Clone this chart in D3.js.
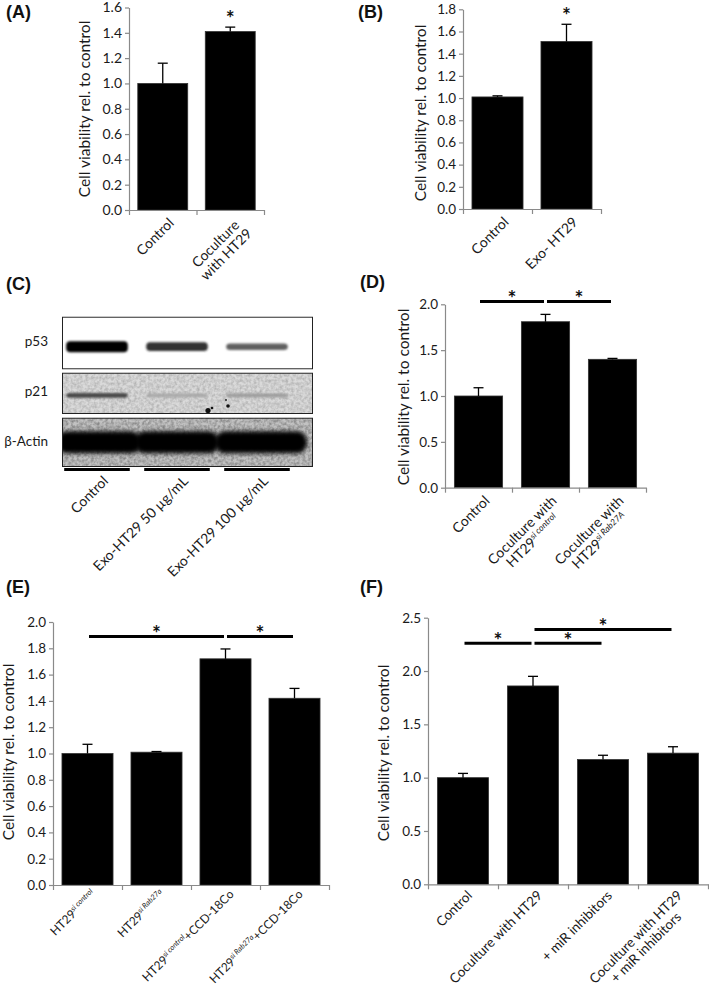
<!DOCTYPE html>
<html><head><meta charset="utf-8">
<script src="https://cdn.jsdelivr.net/npm/d3@7"></script>
<style>
body{margin:0;background:#fff}
svg{display:block}
</style>
</head><body>
<svg id="fig" width="709" height="986"></svg>
<script>
// ---------------- DATA ----------------
// Panel A
const panelA_categories = ["Control", "Coculture\nwith HT29"];
const panelA_values = [1.00, 1.41];
const panelA_errors = [0.16, 0.035];
const panelA_ticks = [0, 0.2, 0.4, 0.6, 0.8, 1.0, 1.2, 1.4, 1.6];
const panelA_starred = [1];

// Panel B
const panelB_categories = ["Control", "Exo- HT29"];
const panelB_values = [1.01, 1.51];
const panelB_errors = [0.01, 0.155];
const panelB_ticks = [0, 0.2, 0.4, 0.6, 0.8, 1.0, 1.2, 1.4, 1.6, 1.8];
const panelB_starred = [1];

// Panel C (western blot, relative band signal per lane)
const blotLanes = ["Control", "Exo-HT29 50 µg/mL", "Exo-HT29 100 µg/mL"];
const blotProteins = ["p53", "p21", "β-Actin"];
const blotP53 = [1.0, 0.8, 0.6];
const blotP21 = [0.7, 0.3, 0.35];
const blotActin = [1.0, 1.0, 1.0];

// Panel D
const panelD_categories = ["Control", "Coculture with\nHT29^{si control}", "Coculture with\nHT29^{si Rab27A}"];
const panelD_values = [1.00, 1.81, 1.40];
const panelD_errors = [0.09, 0.08, 0.01];
const panelD_ticks = [0, 0.5, 1.0, 1.5, 2.0];
const panelD_brackets = [{from: 0, to: 1, level: 2.03}, {from: 1, to: 2, level: 2.03}];

// Panel E
const panelE_categories = ["HT29^{si control}", "HT29^{si Rab27a}", "HT29^{si control}+CCD-18Co", "HT29^{si Rab27a}+CCD-18Co"];
const panelE_values = [1.00, 1.01, 1.72, 1.42];
const panelE_errors = [0.07, 0.005, 0.075, 0.075];
const panelE_ticks = [0, 0.2, 0.4, 0.6, 0.8, 1.0, 1.2, 1.4, 1.6, 1.8, 2.0];
const panelE_brackets = [{from: 0, to: 2, level: 1.89}, {from: 2, to: 3, level: 1.89}];

// Panel F
const panelF_categories = ["Control", "Coculture with HT29", "+ miR inhibitors", "Coculture with HT29\n+ miR inhibitors"];
const panelF_values = [1.00, 1.86, 1.17, 1.23];
const panelF_errors = [0.04, 0.09, 0.04, 0.06];
const panelF_ticks = [0, 0.5, 1.0, 1.5, 2.0, 2.5];
const panelF_brackets = [{from: 0, to: 1, level: 2.26}, {from: 1, to: 2, level: 2.26}, {from: 1, to: 3, level: 2.39}];

const yTitle = "Cell viability rel. to control";

// ---------------- STYLE / LAYOUT ----------------
const FONT = "Lato, 'Open Sans', sans-serif";
const AX = "#8a8a8a";
const fig = d3.select("#fig");

const defs = fig.append("defs");
defs.append("filter").attr("id", "blurS").attr("x", "-20%").attr("y", "-80%").attr("width", "140%").attr("height", "260%")
  .append("feGaussianBlur").attr("stdDeviation", 1.3);
defs.append("filter").attr("id", "blurL").attr("x", "-20%").attr("y", "-80%").attr("width", "140%").attr("height", "260%")
  .append("feGaussianBlur").attr("stdDeviation", 2.2);
const grain = defs.append("filter").attr("id", "grain").attr("x", 0).attr("y", 0).attr("width", "100%").attr("height", "100%");
grain.append("feTurbulence").attr("type", "fractalNoise").attr("baseFrequency", 0.35).attr("numOctaves", 2).attr("seed", 7).attr("result", "n");
grain.append("feColorMatrix").attr("in", "n").attr("type", "matrix")
  .attr("values", "0 0 0 0 0  0 0 0 0 0  0 0 0 0 0  0 0 0 -1.1 0.75").attr("result", "m");
grain.append("feComposite").attr("in", "m").attr("in2", "SourceGraphic").attr("operator", "in");

function parseLine(line) {
  const segs = []; const re = /\^\{([^}]*)\}/g; let last = 0, m;
  while ((m = re.exec(line))) {
    if (m.index > last) segs.push({t: line.slice(last, m.index), sup: false});
    segs.push({t: m[1], sup: true}); last = re.lastIndex;
  }
  if (last < line.length) segs.push({t: line.slice(last), sup: false});
  return segs;
}
function addRich(textSel, line, size) {
  let raised = false;
  parseLine(line).forEach(s => {
    const ts = textSel.append("tspan").text(s.t);
    if (s.sup) { ts.attr("font-size", size * 0.62).attr("font-style", "italic").attr("dy", -size * 0.38); raised = true; }
    else if (raised) { ts.attr("dy", size * 0.38); raised = false; }
  });
}
function rotLabel(g, x, y, label, size, lineH) {
  const grp = g.append("g").attr("transform", `translate(${x},${y}) rotate(-45)`);
  const lines = label.split("\n");
  const texts = lines.map((ln, i) => {
    const t = grp.append("text").attr("x", 0).attr("y", i * lineH).attr("text-anchor", "end")
      .attr("font-family", FONT).attr("font-size", size).attr("fill", "#1a1a1a");
    addRich(t, ln, size); return t;
  });
  if (texts.length > 1) {
    const ws = texts.map(t => t.node().getComputedTextLength());
    const mw = d3.max(ws);
    texts.forEach((t, i) => t.attr("x", -(mw - ws[i]) / 2));
  }
}
function panelLetter(txt, x, y) {
  fig.append("text").attr("x", x).attr("y", y).attr("font-family", "'Liberation Sans', Arial, sans-serif")
    .attr("font-weight", "bold").attr("font-size", 18).attr("fill", "#111").text(txt);
}
function star(g, x, y) {
  g.append("text").attr("x", x).attr("y", y).attr("text-anchor", "middle").attr("font-family", FONT)
    .attr("font-weight", "bold").attr("font-size", 21).attr("fill", "#111").text("*");
}

function barPanel(c) {
  const g = fig.append("g");
  const y = d3.scaleLinear().domain([0, c.max]).range([c.bottom, c.top]);
  const x = d3.scaleBand().domain(d3.range(c.cats.length)).range([c.left, c.right])
    .paddingInner(c.pad).paddingOuter(c.pad / 2);
  const cx = i => x(i) + x.bandwidth() / 2;

  // bars
  g.selectAll("rect.bar").data(c.values).join("rect").attr("class", "bar")
    .attr("x", (d, i) => x(i)).attr("width", x.bandwidth())
    .attr("y", d => y(d)).attr("height", d => c.bottom - y(d))
    .attr("fill", "#000").attr("stroke", "#333").attr("stroke-width", 0.8);
  // error bars (upper)
  c.values.forEach((v, i) => {
    const top = y(v + c.errors[i]);
    g.append("line").attr("x1", cx(i)).attr("x2", cx(i)).attr("y1", y(v)).attr("y2", top)
      .attr("stroke", "#000").attr("stroke-width", 1.3);
    g.append("line").attr("x1", cx(i) - 5).attr("x2", cx(i) + 5).attr("y1", top).attr("y2", top)
      .attr("stroke", "#000").attr("stroke-width", 1.3);
  });
  // y axis
  g.append("g").attr("transform", `translate(${c.left},0)`)
    .call(d3.axisLeft(y).tickValues(c.ticks).tickFormat(d3.format(".1f")).tickSize(4).tickSizeOuter(0).tickPadding(3))
    .call(a => {
      a.select(".domain").attr("stroke", AX).attr("stroke-width", 1.2);
      a.selectAll(".tick line").attr("stroke", AX).attr("stroke-width", 1.2);
      a.selectAll(".tick text").attr("font-family", FONT).attr("font-size", c.tickSize).attr("fill", "#1a1a1a");
    });
  // x axis with ticks at category boundaries
  const xb = d3.scaleLinear().domain([0, c.cats.length]).range([c.left, c.right]);
  g.append("g").attr("transform", `translate(0,${c.bottom})`)
    .call(d3.axisBottom(xb).tickValues(d3.range(c.cats.length + 1)).tickSize(5).tickSizeOuter(0).tickFormat(""))
    .call(a => {
      a.select(".domain").attr("stroke", AX).attr("stroke-width", 1.2);
      a.selectAll(".tick line").attr("stroke", AX).attr("stroke-width", 1.2);
    });
  // category labels
  c.cats.forEach((lab, i) => rotLabel(g, cx(i) + c.lx, c.bottom + c.ly, lab, c.labSize, c.labSize + 1));
  // y title
  g.append("text").attr("transform", `translate(${c.titleX},${c.titleY}) rotate(-90)`)
    .attr("text-anchor", "middle").attr("dominant-baseline", "central")
    .attr("font-family", FONT).attr("font-size", 15.5).attr("fill", "#1a1a1a").text(yTitle);
  // significance
  (c.starred || []).forEach(i => star(g, cx(i), y(c.values[i] + c.errors[i]) - 1));
  (c.brackets || []).forEach(b => {
    const yy = y(b.level);
    const x1 = cx(b.from) + 1.5, x2 = cx(b.to) - 1.5;
    g.append("line").attr("x1", x1).attr("x2", x2).attr("y1", yy).attr("y2", yy)
      .attr("stroke", "#000").attr("stroke-width", 3);
    star(g, (x1 + x2) / 2, yy + 4.5);
  });
}

// ---------------- PANELS ----------------
panelLetter("(A)", 6, 18);
barPanel({cats: panelA_categories, values: panelA_values, errors: panelA_errors, ticks: panelA_ticks, max: 1.6,
  left: 129, right: 264, top: 7.5, bottom: 210, pad: 0.26, tickSize: 14, labSize: 14, lx: 12, ly: 14,
  titleX: 84, titleY: 109, starred: panelA_starred});

panelLetter("(B)", 358, 18);
barPanel({cats: panelB_categories, values: panelB_values, errors: panelB_errors, ticks: panelB_ticks, max: 1.8,
  left: 463, right: 601, top: 9.3, bottom: 209, pad: 0.26, tickSize: 13.5, labSize: 14, lx: 12, ly: 14,
  titleX: 420, titleY: 113, starred: panelB_starred});

panelLetter("(D)", 360, 288);
barPanel({cats: panelD_categories, values: panelD_values, errors: panelD_errors, ticks: panelD_ticks, max: 2.0,
  left: 445, right: 646, top: 304.3, bottom: 487.7, pad: 0.28, tickSize: 13.5, labSize: 14, lx: 12, ly: 14,
  titleX: 403, titleY: 397, brackets: panelD_brackets});

panelLetter("(E)", 6, 593);
barPanel({cats: panelE_categories, values: panelE_values, errors: panelE_errors, ticks: panelE_ticks, max: 2.0,
  left: 53, right: 329, top: 622, bottom: 885, pad: 0.26, tickSize: 13.5, labSize: 12, lx: 9, ly: 10,
  titleX: 8, titleY: 752, brackets: panelE_brackets});

panelLetter("(F)", 360, 593);
barPanel({cats: panelF_categories, values: panelF_values, errors: panelF_errors, ticks: panelF_ticks, max: 2.5,
  left: 428, right: 708, top: 617.7, bottom: 884.3, pad: 0.27, tickSize: 13.5, labSize: 13.5, lx: 10, ly: 12,
  titleX: 383, titleY: 753, brackets: panelF_brackets});

// ---------------- PANEL C : western blot ----------------
panelLetter("(C)", 6, 290);
(function () {
  const g = fig.append("g");
  const boxL = 62, boxR = 313;
  const rows = [
    {name: blotProteins[0], y0: 316.7, y1: 369.3, bg: "#ffffff", noise: false, signal: blotP53, bandY: 0.57, h: 11, blur: "blurS"},
    {name: blotProteins[1], y0: 372.7, y1: 414, bg: "#dadada", noise: true, signal: blotP21, bandY: 0.55, h: 7, blur: "blurS"},
    {name: blotProteins[2], y0: 417.7, y1: 467, bg: "#c2c2c2", noise: true, signal: blotActin, bandY: 0.5, h: 22, blur: "blurL"}
  ];
  const lane = d3.scaleBand().domain(blotLanes).range([57, 297]).paddingInner(0.18).paddingOuter(0.09);
  const lc = l => lane(l) + lane.bandwidth() / 2;
  const shade = d3.scaleLinear().domain([0, 1]).range(["#f0f0f0", "#000"]);

  rows.forEach((r, ri) => {
    const clipId = "clip" + ri;
    defs.append("clipPath").attr("id", clipId).append("rect")
      .attr("x", boxL).attr("y", r.y0).attr("width", boxR - boxL).attr("height", r.y1 - r.y0);
    const rg = g.append("g").attr("clip-path", `url(#${clipId})`);
    rg.append("rect").attr("x", boxL).attr("y", r.y0).attr("width", boxR - boxL).attr("height", r.y1 - r.y0).attr("fill", r.bg);
    if (r.noise) {
      rg.append("rect").attr("x", boxL).attr("y", r.y0).attr("width", boxR - boxL).attr("height", r.y1 - r.y0)
        .attr("fill", "#000").attr("filter", "url(#grain)").attr("opacity", ri === 2 ? 0.5 : 0.3);
    }
    const cyBand = r.y0 + (r.y1 - r.y0) * r.bandY;
    const isActin = ri === 2;
    rg.selectAll("rect.band").data(blotLanes).join("rect").attr("class", "band")
      .attr("x", (l, i) => isActin ? lane(l) - lane.step() * 0.09 - (i === 0 ? 0 : 2) : lc(l) - lane.bandwidth() * 0.47)
      .attr("width", (l, i) => isActin ? lane.step() + 4 + (i === 2 ? 8 : 0) : lane.bandwidth() * 0.94)
      .attr("y", (l, i) => cyBand - (r.h * (isActin ? 1 : Math.max(0.55, r.signal[i]))) / 2)
      .attr("height", (l, i) => r.h * (isActin ? 1 : Math.max(0.55, r.signal[i])))
      .attr("rx", isActin ? 10 : 4)
      .attr("fill", (l, i) => shade(r.signal[i]))
      .attr("filter", `url(#${r.blur})`);
    rg.append("rect").attr("x", boxL).attr("y", r.y0).attr("width", boxR - boxL).attr("height", r.y1 - r.y0)
      .attr("fill", "none").attr("stroke", "#222").attr("stroke-width", 2);
    g.append("text").attr("x", 48).attr("y", (r.y0 + r.y1) / 2 + (ri === 2 ? -1 : -2)).attr("text-anchor", "end")
      .attr("dominant-baseline", "central").attr("font-family", FONT).attr("font-size", 13.5).attr("fill", "#1a1a1a").text(r.name);
  });
  // p21 specks
  [[208, 410.5, 2.6], [212, 408, 1.3], [228, 406, 1.8], [226, 400, 0.9]].forEach(d =>
    g.append("circle").attr("cx", d[0]).attr("cy", d[1]).attr("r", d[2]).attr("fill", "#111"));
  // lane underlines
  g.selectAll("line.ul").data(blotLanes).join("line").attr("class", "ul")
    .attr("x1", l => lane(l)).attr("x2", l => lane(l) + lane.bandwidth())
    .attr("y1", 469.5).attr("y2", 469.5).attr("stroke", "#000").attr("stroke-width", 3);
  blotLanes.forEach(l => rotLabel(g, lc(l) + 12, 482, l, 14, 15));
})();
</script>
</body></html>
